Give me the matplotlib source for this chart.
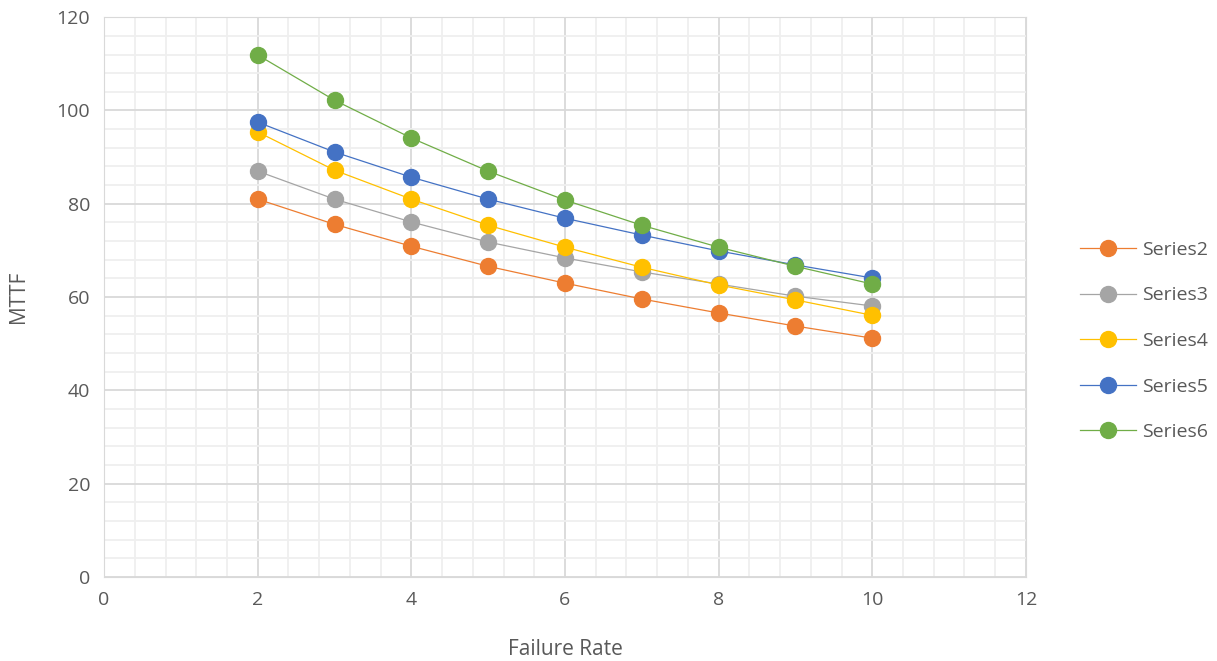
import matplotlib
matplotlib.use("Agg")
import matplotlib.pyplot as plt
from matplotlib.ticker import MultipleLocator

failure_rate = [2, 3, 4, 5, 6, 7, 8, 9, 10]
series2 = [81.0, 75.6, 70.9, 66.6, 63.0, 59.6, 56.6, 53.8, 51.2]
series3 = [87.0, 81.0, 76.1, 71.8, 68.4, 65.4, 62.8, 60.2, 58.1]
series4 = [95.4, 87.2, 81.0, 75.4, 70.7, 66.4, 62.6, 59.4, 56.1]
series5 = [97.5, 91.1, 85.7, 81.0, 76.9, 73.3, 69.9, 66.9, 64.1]
series6 = [111.9, 102.2, 94.1, 87.0, 80.8, 75.4, 70.7, 66.6, 62.8]

names = ["Series2", "Series3", "Series4", "Series5", "Series6"]
colors = ["#ed7d31", "#a5a5a5", "#ffc000", "#4472c4", "#70ad47"]
TXT = "#595959"

plt.rcParams["font.family"] = ["Open Sans", "DejaVu Sans"]

fig = plt.figure(figsize=(12.17, 6.61), dpi=100)
ax = fig.add_axes([0.0855, 0.127, 0.7575, 0.847])

for name, ys, c in zip(names, [series2, series3, series4, series5, series6], colors):
    ax.plot(failure_rate, ys, "-o", color=c, lw=0.9, ms=11.5, label=name, zorder=3)

ax.set_xlim(0, 12)
ax.set_ylim(0, 120)
ax.xaxis.set_major_locator(MultipleLocator(2))
ax.xaxis.set_minor_locator(MultipleLocator(0.4))
ax.yaxis.set_major_locator(MultipleLocator(20))
ax.yaxis.set_minor_locator(MultipleLocator(4))
ax.grid(which="major", color="#d9d9d9", lw=1.3)
ax.grid(which="minor", color="#efefef", lw=1.3)
ax.set_axisbelow(True)
for s in ax.spines.values():
    s.set_color("#d9d9d9")
ax.tick_params(which="both", length=0, colors=TXT, labelsize=14, pad=10)

ax.set_xlabel("Failure Rate", fontsize=15, color=TXT, labelpad=22)
ax.set_ylabel("MTTF", fontsize=15, color=TXT, labelpad=20)

fig.legend(loc="center left", bbox_to_anchor=(0.873, 0.484), frameon=False,
           fontsize=14, labelcolor=TXT, labelspacing=1.42, handlelength=2.9,
           handletextpad=0.3)

fig.savefig("out.png", dpi=100)
